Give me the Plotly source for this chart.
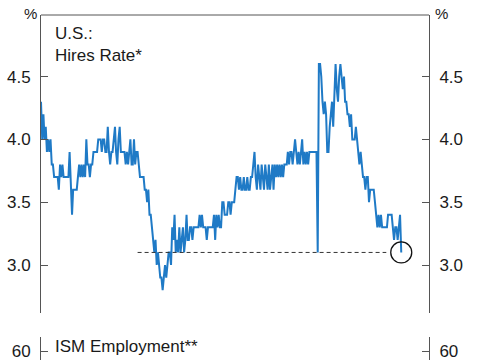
import pandas as pd
import plotly.graph_objects as go

# ---- data: U.S. hires rate, monthly, from Dec 2000 ----
start_month = "2000-12-01"
hires_rate = [
    4.3, 4.0, 4.2, 4.0, 4.1, 3.9, 4.0, 3.9, 4.0, 3.8, 3.8, 3.7, 3.7,
    3.7, 3.7, 3.6, 3.8, 3.7, 3.8, 3.7, 3.7, 3.7, 3.7, 3.7, 3.9,
    3.6, 3.4, 3.6, 3.6, 3.6, 3.6, 3.7, 3.8, 3.7, 3.8, 3.7, 3.8,
    3.7, 4.0, 3.8, 3.8, 3.7, 3.8, 3.8, 3.9, 3.9, 3.9, 3.9, 4.0,
    4.0, 4.0, 3.9, 4.0, 4.0, 3.9, 3.9, 4.1, 3.9, 3.8, 3.9, 3.9,
    4.0, 4.1, 3.9, 3.8, 4.0, 4.1, 3.9, 3.9, 3.9, 3.9, 3.8, 3.9,
    3.8, 3.9, 4.0, 3.8, 3.8, 4.0, 3.8, 3.9, 3.9, 3.8, 3.7, 3.7,
    3.7, 3.7, 3.6, 3.6, 3.5, 3.6, 3.4, 3.4, 3.3, 3.2, 3.1, 3.2,
    3.0, 3.1, 3.0, 2.9, 2.9, 2.8, 2.9, 3.0, 2.9, 3.0, 3.1, 3.1,
    3.0, 3.3, 3.2, 3.4, 3.1, 3.2, 3.1, 3.3, 3.1, 3.2, 3.3, 3.1,
    3.2, 3.4, 3.2, 3.2, 3.3, 3.3, 3.2, 3.3, 3.3, 3.3, 3.3, 3.3,
    3.4, 3.3, 3.4, 3.3, 3.3, 3.3, 3.2, 3.3, 3.3, 3.3, 3.3, 3.3,
    3.4, 3.2, 3.4, 3.3, 3.4, 3.3, 3.3, 3.5, 3.5, 3.4, 3.4, 3.4,
    3.5, 3.5, 3.4, 3.5, 3.5, 3.5, 3.6, 3.7, 3.7, 3.6, 3.7, 3.6,
    3.6, 3.7, 3.6, 3.6, 3.7, 3.6, 3.6, 3.7, 3.7, 3.8, 3.9, 3.7,
    3.6, 3.8, 3.7, 3.6, 3.8, 3.7, 3.6, 3.8, 3.7, 3.6, 3.8, 3.6,
    3.7, 3.8, 3.6, 3.8, 3.7, 3.8, 3.7, 3.8, 3.7, 3.8, 3.7, 3.8,
    3.8, 3.8, 3.9, 3.8, 3.9, 3.9, 3.8, 3.9, 4.0, 3.9, 3.8, 3.9,
    3.8, 3.9, 4.0, 3.8, 3.9, 3.8, 3.9, 3.8, 3.9, 3.9, 3.9, 3.9,
    3.9, 3.9, 3.9, 3.1, 4.6, 4.6, 4.5, 4.3, 4.2, 4.3, 4.2, 3.9,
    3.9, 4.1, 4.2, 4.3, 4.1, 4.3, 4.6, 4.4, 4.3, 4.5, 4.6, 4.5,
    4.4, 4.5, 4.3, 4.3, 4.2, 4.2, 4.1, 4.2, 4.0, 4.0, 4.0, 4.1,
    4.0, 3.9, 3.8, 3.9, 3.8, 3.7, 3.7, 3.6, 3.7, 3.7, 3.5, 3.6,
    3.6, 3.6, 3.6, 3.5, 3.4, 3.3, 3.4, 3.3, 3.4, 3.3, 3.3, 3.3,
    3.3, 3.3, 3.4, 3.4, 3.4, 3.4, 3.3, 3.2, 3.3, 3.3, 3.2, 3.3,
    3.4, 3.1,
]
hires_ticks = [3.0, 3.5, 4.0, 4.5]
ism_ticks = [60]
ism_range = [56.09, 66.09]
ref_level = 3.1
ref_start = "2007-09-01"
ref_end = "2025-01-15"
x_range = ["2000-12-01", "2028-01-10"]

dates = pd.date_range(start_month, periods=len(hires_rate), freq="MS")

FONT = "Liberation Sans, Arial, sans-serif"
TXT = "#1a1a1a"
AX = "#555555"
BLUE = "#1f7ac6"

fig = go.Figure()
fig.add_trace(go.Scatter(x=dates, y=hires_rate, mode="lines",
                         line=dict(color=BLUE, width=2), xaxis="x", yaxis="y",
                         showlegend=False, hoverinfo="skip"))
fig.add_trace(go.Scatter(x=[ref_start, ref_end], y=[ref_level, ref_level], mode="lines",
                         line=dict(color="#333333", width=1, dash="4px,3px"),
                         xaxis="x", yaxis="y", showlegend=False, hoverinfo="skip"))
fig.add_trace(go.Scatter(x=[dates[-1]], y=[hires_rate[-1]], mode="markers",
                         marker=dict(symbol="circle-open", size=21, color="#111111",
                                     line=dict(width=1.3, color="#111111")),
                         xaxis="x", yaxis="y2", showlegend=False, hoverinfo="skip"))
# lower panel (ISM Employment): only its top edge is in view; invisible anchors
fig.add_trace(go.Scatter(x=[dates[0]], y=[ism_ticks[0]], mode="markers",
                         marker=dict(opacity=0), xaxis="x2", yaxis="y3",
                         showlegend=False, hoverinfo="skip"))
fig.add_trace(go.Scatter(x=[dates[0]], y=[ism_ticks[0]], mode="markers",
                         marker=dict(opacity=0), xaxis="x2", yaxis="y4",
                         showlegend=False, hoverinfo="skip"))

W, H = 485, 360
xl, xr = 41 / W, 429 / W
top_dom = [1 - 313 / H, 1 - 15 / H]
bot_dom = [0, 1 - 337 / H]
yr = [2.618, 4.99]

common_y = dict(showline=True, linecolor=AX, linewidth=1, ticks="inside", ticklen=7,
                tickcolor=AX, tickwidth=1, showgrid=False, zeroline=False,
                ticklabeloverflow="allow",
                tickfont=dict(family=FONT, size=17, color=TXT), fixedrange=True)

fig.update_layout(
    width=W, height=H, margin=dict(l=0, r=0, t=0, b=0),
    paper_bgcolor="white", plot_bgcolor="white",
    xaxis=dict(domain=[xl, xr], range=x_range, type="date", visible=False, anchor="y"),
    xaxis2=dict(domain=[xl, xr], range=x_range, type="date", visible=False, anchor="y3"),
    yaxis=dict(domain=top_dom, range=yr, side="left", anchor="x", tickvals=hires_ticks,
               tickformat=".1f", ticklabelstandoff=6, **common_y),
    yaxis2=dict(range=yr, side="right", overlaying="y", anchor="x", tickvals=hires_ticks,
                tickformat=".1f", ticklabelstandoff=6, **common_y),
    yaxis3=dict(domain=bot_dom, range=ism_range, side="left", anchor="x2",
                tickmode="array", tickvals=ism_ticks, ticktext=[str(v) for v in ism_ticks],
                ticklabelstandoff=6, **common_y),
    yaxis4=dict(range=ism_range, side="right", overlaying="y3", anchor="x2",
                tickmode="array", tickvals=ism_ticks, ticktext=[str(v) for v in ism_ticks],
                ticklabelstandoff=6, **common_y),
    shapes=[dict(type="line", xref="x domain", yref="y domain", x0=0, x1=1, y0=1, y1=1,
                 line=dict(color=AX, width=1))],
    annotations=[
        dict(text="U.S.:<br>Hires Rate*", xref="paper", yref="paper", x=53 / W, y=1 - 22 / H,
             xanchor="left", yanchor="top", align="left", showarrow=False,
             font=dict(family=FONT, size=17, color=TXT)),
        dict(text="%", xref="paper", yref="paper", x=30 / W, y=1 - 14 / H,
             xanchor="center", yanchor="middle", showarrow=False,
             font=dict(family=FONT, size=15, color=TXT)),
        dict(text="%", xref="paper", yref="paper", x=441 / W, y=1 - 14 / H,
             xanchor="center", yanchor="middle", showarrow=False,
             font=dict(family=FONT, size=15, color=TXT)),
        dict(text="ISM Employment**", xref="paper", yref="paper", x=53 / W, y=1 - 346 / H,
             xanchor="left", yanchor="middle", align="left", showarrow=False,
             font=dict(family=FONT, size=17, color=TXT)),
    ],
)

fig.write_html("out.html", config={"displayModeBar": False},
               post_script="document.body.style.margin='0';document.body.style.padding='0';")
